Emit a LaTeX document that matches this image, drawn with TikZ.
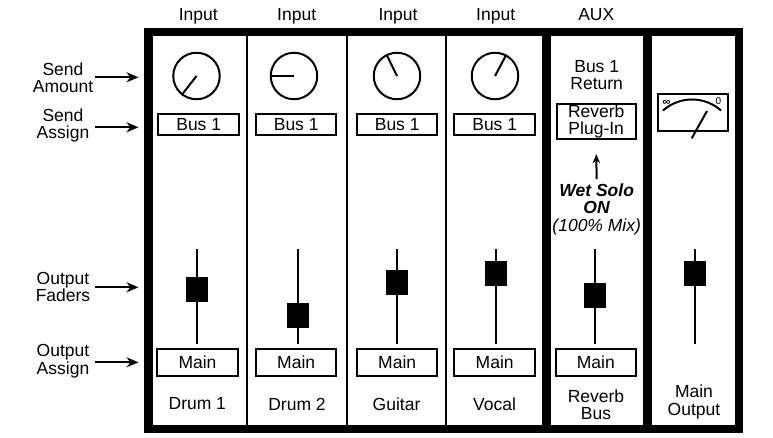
\documentclass[tikz,border=0pt]{standalone}
\usepackage{fontspec}
\setmainfont{Liberation Sans}
\usetikzlibrary{arrows.meta}
\begin{document}
\begin{tikzpicture}[x=1pt,y=-1pt,
  every node/.style={font=\fontsize{17.5}{17.5}\selectfont, inner sep=0pt},
  thinline/.style={line width=2pt},
  lbl/.style={align=center},
  busbox/.style={draw, line width=2pt, minimum width=80.5pt, minimum height=21pt, text height=12.5pt, text depth=0pt},
  mainbox/.style={draw, line width=2pt, minimum width=80.5pt, minimum height=27pt, text height=12.5pt, text depth=0pt},
  faderknob/.style={fill=black, minimum width=22pt, minimum height=25pt},
  knob/.style={circle, draw, line width=2pt, minimum size=46.5pt},
  sidearrow/.style={-{Stealth[length=12pt,width=10pt]}, line width=2pt},
  wetarrow/.style={-{Stealth[length=9pt,width=7.5pt]}, line width=2pt}]
\useasboundingbox (0,0) rectangle (773,437);

% frame
\draw[line width=8.5pt] (148.5,32) rectangle (739,429);
\draw[line width=9pt] (546,32) -- (546,429);
\draw[line width=9pt] (647.5,32) -- (647.5,429);
\foreach \xx in {247.3,346.7,446} \draw[thinline] (\xx,36) -- (\xx,425);

% headers
\node[anchor=base] (h1) at (198.3,20.7) {Input};
\node[anchor=base] (h2) at (296.7,20.7) {Input};
\node[anchor=base] (h3) at (398,20.7) {Input};
\node[anchor=base] (h4) at (495.7,20.7) {Input};
\node[anchor=base] (h5) at (596.3,20.7) {AUX};

% left labels
\node[lbl] (la) at (63,77.7) {Send\\Amount};
\node[lbl] (lb) at (63,125.5) {Send\\Assign};
\node[lbl] (lc) at (63,287.2) {Output\\Faders};
\node[lbl] (ld) at (63,361.2) {Output\\Assign};
\coordinate (la1) at (95,77.3);  \coordinate (la2) at (138.5,77.3);
\coordinate (lb1) at (95,127.3); \coordinate (lb2) at (138.5,127.3);
\coordinate (lc1) at (95,287.3); \coordinate (lc2) at (138.5,287.3);
\coordinate (ld1) at (95,362.3); \coordinate (ld2) at (138.5,362.3);
\draw[sidearrow] (la1) -- (la2);
\draw[sidearrow] (lb1) -- (lb2);
\draw[sidearrow] (lc1) -- (lc2);
\draw[sidearrow] (ld1) -- (ld2);

% knobs
\node[knob] (k1) at (196.5,76) {};
\node[knob] (k2) at (294,76) {};
\node[knob] (k3) at (397,76) {};
\node[knob] (k4) at (495,76) {};
\draw[thinline] (k1.center) -- (k1.232);
\draw[thinline] (k2.180) -- (k2.center);
\draw[thinline] (k3.116) -- (k3.center);
\draw[thinline] (k4.center) -- (k4.62);

% send assign boxes
\node[busbox] (b1) at (198.7,124.7) {Bus 1};
\node[busbox] (b2) at (296.2,124.7) {Bus 1};
\node[busbox] (b3) at (397.2,124.7) {Bus 1};
\node[busbox] (b4) at (494.7,124.7) {Bus 1};

% faders
\foreach \xx/\yy/\nm in {196.7/289.8/f1, 297.5/315.8/f2, 397.2/282.3/f3, 496.2/273.2/f4, 595.2/295.5/f5, 695.2/273.2/f6}{
  \draw[thinline] (\xx,249.3) -- (\xx,344);
  \node[faderknob] (\nm) at (\xx,\yy) {};
}

% output assign boxes
\node[mainbox] (m1) at (197.5,362.3) {Main};
\node[mainbox] (m2) at (296.2,362.3) {Main};
\node[mainbox] (m3) at (397.2,362.3) {Main};
\node[mainbox] (m4) at (494.7,362.3) {Main};
\node[mainbox] (m5) at (595.8,362.3) {Main};

% channel names
\node (n1) at (197.3,404) {Drum 1};
\node (n2) at (297,404) {Drum 2};
\node (n3) at (396.5,404) {Guitar};
\node (n4) at (494.5,404) {Vocal};
\node[lbl] (n5) at (596,404.5) {Reverb\\Bus};
\node[lbl] (n6) at (694,402) {Main\\Output};

% aux
\node[lbl] (ret) at (596.7,75.3) {Bus 1\\Return};
\node[draw, thinline, minimum width=79pt, minimum height=35pt, align=center] (rev) at (596.2,121.7) {Reverb\\Plug-In};
\node[lbl] (wet) at (596.7,209) {\textbf{\textit{Wet Solo}}\\\textbf{\textit{ON}}\\\textit{(100\% Mix)}};
\coordinate (wa) at (596.7,179);
\draw[wetarrow] (wa) -- ([yshift=-14pt]rev.south);

% meter
\node[draw, thinline, minimum width=69.4pt, minimum height=36.5pt] (meter) at (693,112.3) {};
\draw[thinline] (663,110.5) arc[start angle=-131.6, end angle=-48.4, radius=43.7];
\coordinate (nd1) at (691.7,138.3);
\coordinate (nd2) at (707,111);
\draw[thinline] (nd1) -- (nd2);
\node[font=\fontsize{11}{11}\selectfont\bfseries] (inf) at (666.5,102.5) {∞};
\node[font=\fontsize{10}{10}\selectfont] (zero) at (718.5,101.5) {0};
\end{tikzpicture}
\end{document}
